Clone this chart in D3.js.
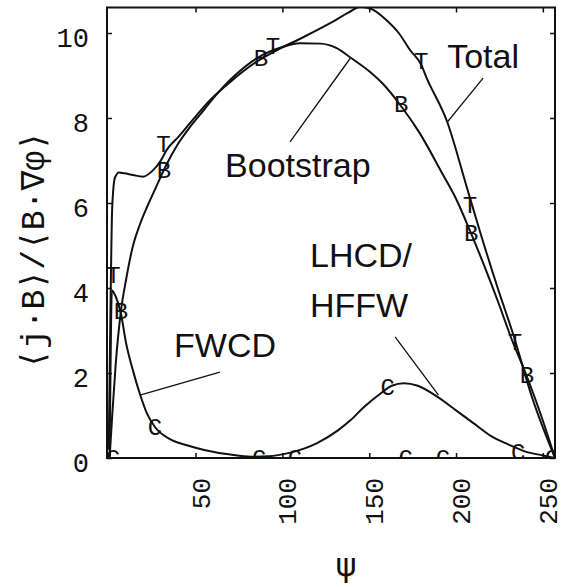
<!DOCTYPE html>
<html><head><meta charset="utf-8">
<script src="https://cdn.jsdelivr.net/npm/d3@7"></script>
<style>
body{margin:0;background:#fff;}
svg{display:block;}
.mono{font-family:"Liberation Mono","DejaVu Sans Mono",monospace;font-feature-settings:"zero" 1;font-variant-numeric:slashed-zero;}
.ann{font-family:"Liberation Sans",Arial,sans-serif;font-size:34px;fill:#111;}
</style></head>
<body>
<svg id="c" width="565" height="587"></svg>
<script>
// ---- data (psi, value) ----
const xTicks = [50, 100, 150, 200, 250];
const yTicks = [0, 2, 4, 6, 8, 10];

const totalCurve = [[0,0.2],[1,3.5],[2,5.9],[3.6,6.6],[6,6.72],[9,6.7],[14,6.66],[19.7,6.62],[25,6.75],[30,7.0],[33.4,7.25],[40,7.55],[46.8,7.88],[58.3,8.42],[70,8.85],[85,9.32],[97,9.6],[112,9.9],[127.5,10.23],[138,10.48],[145,10.62],[152,10.55],[160,10.3],[167,10.0],[173.5,9.6],[180,9.25],[183,8.95],[195,7.9],[206,6.4],[214,5.3],[224,4.0],[233,2.9],[244,1.4],[257,0]];

const bootstrapCurve = [[0.5,0],[2,1.0],[4,2.2],[7,3.45],[10,4.2],[14,5.0],[18,5.5],[22,5.9],[27,6.35],[32,6.8],[40,7.4],[47,7.8],[55,8.2],[62,8.55],[70,8.9],[85,9.4],[100,9.67],[110,9.76],[122,9.75],[131,9.65],[140,9.4],[150,9.1],[158,8.8],[168,8.3],[179,7.65],[192,6.7],[200,6.1],[208,5.35],[216,4.55],[224,3.7],[232,2.8],[241,1.9],[249,1.0],[257,0]];

const cdCurve = [[0.5,0],[1,2.0],[1.8,3.95],[4,3.8],[7,3.4],[10,2.7],[14,2.05],[18,1.5],[22,1.05],[26.6,0.73],[35,0.45],[45,0.3],[55,0.19],[70,0.08],[82,0.03],[92,0.04],[104,0.12],[120,0.35],[132,0.65],[139,0.88],[147,1.2],[156,1.5],[163,1.7],[170,1.76],[178,1.7],[190,1.42],[200,1.12],[210,0.82],[220,0.52],[230,0.32],[240,0.15],[250,0.06],[257,0]];

const bPoints = [[7,3.46],[31.8,6.78],[87.7,9.41],[168.4,8.33],[208.7,5.29],[240.9,1.95]];
const tPoints = [[2.7,4.3],[31.5,7.38],[94.6,9.7],[179.9,9.35],[208,5.95],[234,2.72]];
const cPoints = [[2.5,0],[26.6,0.73],[86.6,0],[107.3,0],[160.6,1.68],[171,0],[192.5,0],[235.8,0.15],[255.3,0]];

const labels = [
  {text:"Total", x:194.9, y:9.18},
  {text:"Bootstrap", x:67, y:6.61},
  {text:"LHCD/", x:115.9, y:4.49},
  {text:"HFFW", x:115.9, y:3.32},
  {text:"FWCD", x:37.6, y:2.38}
];
const leaders = [
  [[215.6,8.94],[194.9,7.9]],
  [[139,9.4],[104.4,7.44]],
  [[164.9,2.85],[189.9,1.48]],
  [[18,1.48],[64,2.02]]
];

// ---- layout ----
const L = 107, R = 555, T = 7.5, B = 458;
const svg = d3.select("#c");
const x = d3.scaleLinear().domain([-1, 257]).range([L, R]);
const y = d3.scaleLinear().domain([0, 10.6]).range([B, T]);

svg.append("defs").append("clipPath").attr("id","clip")
  .append("rect").attr("x",L).attr("y",T).attr("width",R-L).attr("height",B-T);

// axes with inward ticks
const tk = 5;
function styleAxis(g){ g.select(".domain").remove(); g.selectAll("line").attr("stroke","#111").attr("stroke-width",1.5); }
svg.append("g").attr("transform",`translate(0,${B})`).call(d3.axisBottom(x).tickValues(xTicks).tickSizeInner(-tk).tickSizeOuter(0).tickFormat("")).call(styleAxis);
svg.append("g").attr("transform",`translate(0,${T})`).call(d3.axisTop(x).tickValues(xTicks).tickSizeInner(-tk).tickSizeOuter(0).tickFormat("")).call(styleAxis);
svg.append("g").attr("transform",`translate(${L},0)`).call(d3.axisLeft(y).tickValues(yTicks).tickSizeInner(-tk).tickSizeOuter(0).tickFormat("")).call(styleAxis);
svg.append("g").attr("transform",`translate(${R},0)`).call(d3.axisRight(y).tickValues(yTicks).tickSizeInner(-tk).tickSizeOuter(0).tickFormat("")).call(styleAxis);

svg.append("rect").attr("x",L).attr("y",T).attr("width",R-L).attr("height",B-T)
  .attr("fill","none").attr("stroke","#111").attr("stroke-width",2);

// tick labels
svg.append("g").selectAll("text").data(yTicks).join("text")
  .attr("class","mono").attr("x",89).attr("y",d=>y(d)+14)
  .attr("text-anchor","end").attr("font-size",27).attr("fill","#111").text(d=>d);
svg.append("g").selectAll("text").data(xTicks).join("text")
  .attr("class","mono").attr("transform",d=>`translate(${x(d)+14},478) rotate(-90)`)
  .attr("text-anchor","end").attr("font-size",26).attr("fill","#111").text(d=>d);

// axis titles
svg.append("text").attr("class","mono").attr("transform","translate(44,250) rotate(-90)")
  .attr("text-anchor","middle").attr("font-size",33).attr("fill","#111").text("⟨j·B⟩/⟨B·∇φ⟩");
svg.append("text").attr("x",346).attr("y",576).attr("text-anchor","middle")
  .attr("font-family","DejaVu Sans").attr("font-size",32).attr("fill","#111").text("ψ");

// curves
const plot = svg.append("g").attr("clip-path","url(#clip)");
const line = d3.line().x(d=>x(d[0])).y(d=>y(d[1])).curve(d3.curveMonotoneX);
[totalCurve, bootstrapCurve, cdCurve].forEach(c=>{
  plot.append("path").attr("d",line(c)).attr("fill","none").attr("stroke","#111").attr("stroke-width",2);
});

// letter markers
function markers(pts, ch){
  plot.append("g").selectAll("text").data(pts).join("text")
    .attr("class","mono").attr("x",d=>x(d[0])).attr("y",d=>y(d[1]))
    .attr("dy","0.33em").attr("text-anchor","middle").attr("font-size",24)
    .attr("fill","#111").text(ch);
}
markers(bPoints,"B"); markers(tPoints,"T"); markers(cPoints,"C");

// annotations
svg.append("g").selectAll("path").data(leaders).join("path")
  .attr("d",d=>d3.line().x(p=>x(p[0])).y(p=>y(p[1]))(d))
  .attr("stroke","#111").attr("stroke-width",1.3).attr("fill","none");
svg.append("g").selectAll("text").data(labels).join("text")
  .attr("class","ann").attr("x",d=>x(d.x)).attr("y",d=>y(d.y)).text(d=>d.text);
</script>
</body></html>
